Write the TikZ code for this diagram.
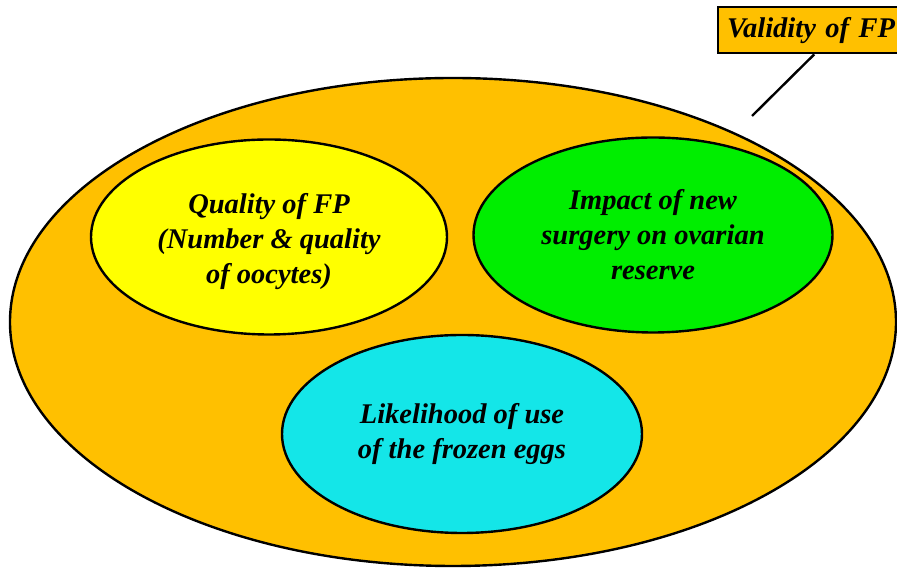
\documentclass[tikz,border=0pt]{standalone}
\usepackage{fontspec}
\setmainfont{Liberation Serif}
\usetikzlibrary{shapes.geometric}
\definecolor{orangefill}{HTML}{FFC000}
\definecolor{yellowfill}{HTML}{FFFF00}
\definecolor{greenfill}{HTML}{00EE00}
\definecolor{cyanfill}{HTML}{14E6E8}
\begin{document}
\begin{tikzpicture}[x=1pt,y=1pt,
  oval/.style={ellipse, draw=black, line width=2.4pt, inner sep=0pt, align=center,
    font=\fontsize{28.5}{35}\selectfont\bfseries\itshape},
  tag/.style={draw=black, line width=2.4pt, fill=orangefill, inner sep=0pt,
    minimum height=46pt, text width=190pt, align=left,
    font=\fontsize{28.5}{34}\selectfont\bfseries\itshape}]
\useasboundingbox (0,0) rectangle (897,569);
\node[tag, anchor=north west] (label) at (717,563) {\hspace*{9pt}Validity of FP};
\coordinate (tip) at (752,453);
\draw[line width=2.4pt] ([xshift=1pt]label.south) -- (tip);
\node[oval, fill=orangefill, minimum width=886pt, minimum height=488pt] (validity) at (453,247) {};
\node[oval, fill=yellowfill, minimum width=356pt, minimum height=195pt] (quality) at (269,332)
  {\\[-6pt]Quality of FP\\(Number \& quality\\of oocytes)};
\node[oval, fill=greenfill, minimum width=359pt, minimum height=195pt] (impact) at (653,334)
  {Impact of new\\surgery on ovarian\\reserve};
\node[oval, fill=cyanfill, minimum width=360pt, minimum height=198pt] (likelihood) at (462,135)
  {Likelihood of use\\of the frozen eggs};
\end{tikzpicture}
\end{document}
